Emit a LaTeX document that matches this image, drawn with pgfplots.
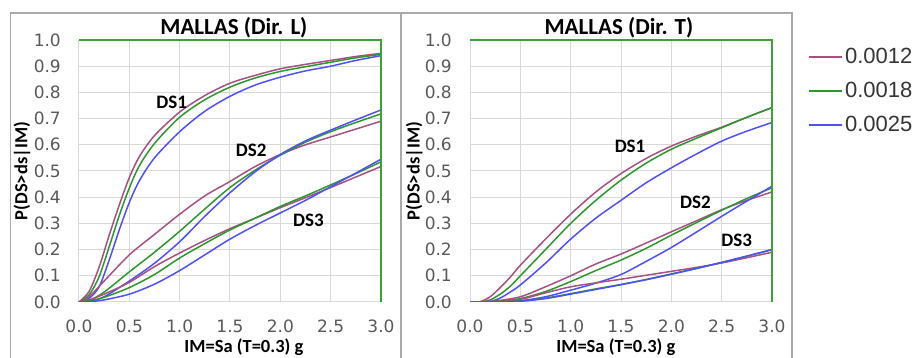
\documentclass[border=0pt]{standalone}
\usepackage{fontspec}
\setmainfont{Carlito}
\newfontfamily\tickfont{DejaVu Sans}
\newfontfamily\legfont{Liberation Sans}
\usepackage{pgfplots}
\pgfplotsset{compat=1.18}
\definecolor{cP}{RGB}{163,82,130}
\definecolor{cG}{RGB}{45,150,45}
\definecolor{cB}{RGB}{80,80,250}
\definecolor{gridc}{RGB}{217,217,217}
\definecolor{tickc}{RGB}{89,89,89}
\definecolor{framec}{RGB}{170,170,170}
\definecolor{borderg}{RGB}{60,160,60}
\tikzset{
 dslab/.style={font=\bfseries\fontsize{19}{21}\selectfont},
 ttl/.style={font=\bfseries\fontsize{23}{26}\selectfont},
 lab/.style={font=\bfseries\fontsize{18.5}{20}\selectfont, inner sep=0pt},
}
\pgfplotsset{
 fragility/.style={
  scale only axis, width=302pt, height=262pt,
  xmin=0,xmax=3,ymin=0,ymax=1,
  clip mode=individual,
  xtick={0,0.5,1,1.5,2,2.5,3},
  ytick={0,0.1,0.2,0.3,0.4,0.5,0.6,0.7,0.8,0.9,1},
  grid=major, major grid style={gridc, line width=1pt},
  axis line style={draw=none},
  major tick length=0pt,
  /pgf/number format/assume math mode=true,
  tick label style={font=\tickfont\fontsize{17}{18}\selectfont, text=tickc, inner sep=0pt,
    /pgf/number format/fixed, /pgf/number format/fixed zerofill, /pgf/number format/precision=1},
  xticklabel style={yshift=-18pt},
  yticklabel style={xshift=-18pt},
  every axis plot/.append style={line width=1.5pt, smooth, no markers},
 },
}
\begin{document}
\begin{tikzpicture}
\path[use as bounding box] (0pt,0pt) rectangle (919pt,358pt);
\draw[framec, line width=1.5pt] (10.7pt,0pt) -- (10.7pt,345pt) -- (401pt,345pt);
\draw[framec, line width=1.5pt] (401pt,0pt) -- (401pt,345pt) -- (792pt,345pt) -- (792pt,0pt);
% ---------- Left panel ----------
\begin{axis}[fragility, at={(79pt,56pt)}, anchor=south west]
% DS1
\addplot[cP] coordinates {(0,0)(0.1,0.04)(0.2,0.133)(0.3,0.255)(0.4,0.37)(0.5,0.475)(0.6,0.555)(0.75,0.635)(1.0,0.725)(1.25,0.788)(1.5,0.835)(1.75,0.865)(2.0,0.89)(2.25,0.907)(2.5,0.922)(2.75,0.937)(3.0,0.949)};
\addplot[cG] coordinates {(0,0)(0.1,0.027)(0.2,0.097)(0.3,0.211)(0.4,0.33)(0.5,0.435)(0.6,0.52)(0.75,0.605)(1.0,0.705)(1.25,0.772)(1.5,0.82)(1.75,0.855)(2.0,0.88)(2.25,0.898)(2.5,0.915)(2.75,0.932)(3.0,0.945)};
\addplot[cB] coordinates {(0,0)(0.1,0.014)(0.2,0.058)(0.3,0.16)(0.4,0.275)(0.5,0.38)(0.6,0.463)(0.75,0.55)(1.0,0.65)(1.25,0.728)(1.5,0.785)(1.75,0.828)(2.0,0.858)(2.25,0.882)(2.5,0.90)(2.75,0.922)(3.0,0.94)};
% DS2
\addplot[cP] coordinates {(0,0)(0.1,0.02)(0.25,0.08)(0.5,0.18)(0.75,0.258)(1.0,0.335)(1.25,0.405)(1.5,0.46)(1.75,0.517)(2.0,0.563)(2.25,0.60)(2.5,0.63)(2.75,0.66)(3.0,0.69)};
\addplot[cG] coordinates {(0,0)(0.1,0.005)(0.25,0.038)(0.5,0.115)(0.75,0.19)(1.0,0.27)(1.25,0.355)(1.5,0.437)(1.75,0.503)(2.0,0.56)(2.25,0.61)(2.5,0.65)(2.75,0.685)(3.0,0.718)};
\addplot[cB] coordinates {(0,0)(0.1,0.002)(0.25,0.02)(0.5,0.08)(0.75,0.148)(1.0,0.23)(1.25,0.327)(1.5,0.417)(1.75,0.497)(2.0,0.563)(2.25,0.615)(2.5,0.656)(2.75,0.695)(3.0,0.733)};
% DS3
\addplot[cP] coordinates {(0,0)(0.1,0.008)(0.25,0.03)(0.5,0.075)(0.75,0.135)(1.0,0.187)(1.25,0.235)(1.5,0.28)(1.75,0.32)(2.0,0.36)(2.25,0.398)(2.5,0.437)(2.75,0.477)(3.0,0.517)};
\addplot[cG] coordinates {(0,0)(0.1,0.004)(0.25,0.018)(0.5,0.055)(0.75,0.105)(1.0,0.168)(1.25,0.223)(1.5,0.275)(1.75,0.32)(2.0,0.365)(2.25,0.405)(2.5,0.447)(2.75,0.49)(3.0,0.535)};
\addplot[cB] coordinates {(0,0)(0.1,0.001)(0.25,0.008)(0.5,0.03)(0.75,0.068)(1.0,0.12)(1.25,0.18)(1.5,0.24)(1.75,0.292)(2.0,0.34)(2.25,0.388)(2.5,0.44)(2.75,0.492)(3.0,0.545)};
\draw[borderg, line width=1.5pt] (rel axis cs:0,1) -- (rel axis cs:1,1) -- (rel axis cs:1,0);
\node[dslab] at (axis cs:0.92,0.763) {DS1};
\node[dslab] at (axis cs:1.71,0.577) {DS2};
\node[dslab] at (axis cs:2.28,0.313) {DS3};
\node[ttl] at (rel axis cs:0.513,1.046) {MALLAS (Dir. L)};
\node[lab] at (rel axis cs:0.546,-0.172) {IM=Sa (T=0.3) g};
\node[lab, rotate=90] at (rel axis cs:-0.189,0.5) {P(DS>ds|IM)};
\end{axis}
% ---------- Right panel ----------
\begin{axis}[fragility, at={(470pt,56pt)}, anchor=south west,
  legend style={at={(1.119,0.976)}, anchor=north west, draw=none, fill=none,
    font=\legfont\fontsize{22}{24}\selectfont, text=tickc!60!black, row sep=13pt,
    inner sep=0pt, /tikz/every even column/.append style={column sep=0pt}},
  legend cell align=left,
  legend image code/.code={\draw[#1, line width=2pt] (0pt,0pt) -- (33pt,0pt);}]
\addlegendimage{cP}\addlegendentry{0.0012}
\addlegendimage{cG}\addlegendentry{0.0018}
\addlegendimage{cB}\addlegendentry{0.0025}
% DS1
\addplot[cP] coordinates {(0,0)(0.1,0.001)(0.2,0.02)(0.3,0.055)(0.4,0.095)(0.5,0.14)(0.75,0.24)(1.0,0.335)(1.25,0.42)(1.5,0.49)(1.75,0.548)(2.0,0.595)(2.25,0.633)(2.5,0.667)(2.75,0.705)(3.0,0.742)};
\addplot[cG] coordinates {(0,0)(0.1,0)(0.2,0.008)(0.3,0.03)(0.4,0.06)(0.5,0.1)(0.75,0.2)(1.0,0.3)(1.25,0.388)(1.5,0.465)(1.75,0.53)(2.0,0.583)(2.25,0.625)(2.5,0.665)(2.75,0.705)(3.0,0.742)};
\addplot[cB] coordinates {(0,0)(0.1,0)(0.2,0.002)(0.3,0.015)(0.4,0.038)(0.5,0.065)(0.75,0.148)(1.0,0.24)(1.25,0.32)(1.5,0.388)(1.75,0.455)(2.0,0.512)(2.25,0.565)(2.5,0.614)(2.75,0.652)(3.0,0.685)};
% DS2
\addplot[cP] coordinates {(0,0)(0.25,0.004)(0.5,0.02)(0.75,0.058)(1.0,0.1)(1.25,0.145)(1.5,0.183)(1.75,0.225)(2.0,0.268)(2.25,0.31)(2.5,0.352)(2.75,0.388)(3.0,0.42)};
\addplot[cG] coordinates {(0,0)(0.25,0.002)(0.5,0.013)(0.75,0.04)(1.0,0.078)(1.25,0.12)(1.5,0.16)(1.75,0.205)(2.0,0.255)(2.25,0.303)(2.5,0.35)(2.75,0.395)(3.0,0.436)};
\addplot[cB] coordinates {(0,0)(0.25,0.001)(0.5,0.005)(0.75,0.02)(1.0,0.045)(1.25,0.072)(1.5,0.105)(1.75,0.155)(2.0,0.208)(2.25,0.267)(2.5,0.327)(2.75,0.385)(3.0,0.442)};
% DS3
\addplot[cP] coordinates {(0,0)(0.25,0.002)(0.5,0.01)(0.75,0.035)(1.0,0.058)(1.25,0.073)(1.5,0.087)(1.75,0.102)(2.0,0.117)(2.25,0.132)(2.5,0.149)(2.75,0.169)(3.0,0.19)};
\addplot[cG] coordinates {(0,0)(0.25,0.001)(0.5,0.004)(0.75,0.015)(1.0,0.032)(1.25,0.05)(1.5,0.067)(1.75,0.086)(2.0,0.107)(2.25,0.128)(2.5,0.151)(2.75,0.175)(3.0,0.2)};
\addplot[cB] coordinates {(0,0)(0.25,0.0005)(0.5,0.003)(0.75,0.013)(1.0,0.03)(1.25,0.048)(1.5,0.066)(1.75,0.085)(2.0,0.106)(2.25,0.128)(2.5,0.151)(2.75,0.175)(3.0,0.2)};
\draw[borderg, line width=1.5pt] (rel axis cs:0,1) -- (rel axis cs:1,1) -- (rel axis cs:1,0);
\node[dslab] at (axis cs:1.59,0.594) {DS1};
\node[dslab] at (axis cs:2.24,0.379) {DS2};
\node[dslab] at (axis cs:2.65,0.234) {DS3};
\node[ttl] at (rel axis cs:0.493,1.046) {MALLAS (Dir. T)};
\node[lab] at (rel axis cs:0.483,-0.172) {IM=Sa (T=0.3) g};
\node[lab, rotate=90] at (rel axis cs:-0.185,0.5) {P(DS>ds|IM)};
\end{axis}
\end{tikzpicture}
\end{document}
